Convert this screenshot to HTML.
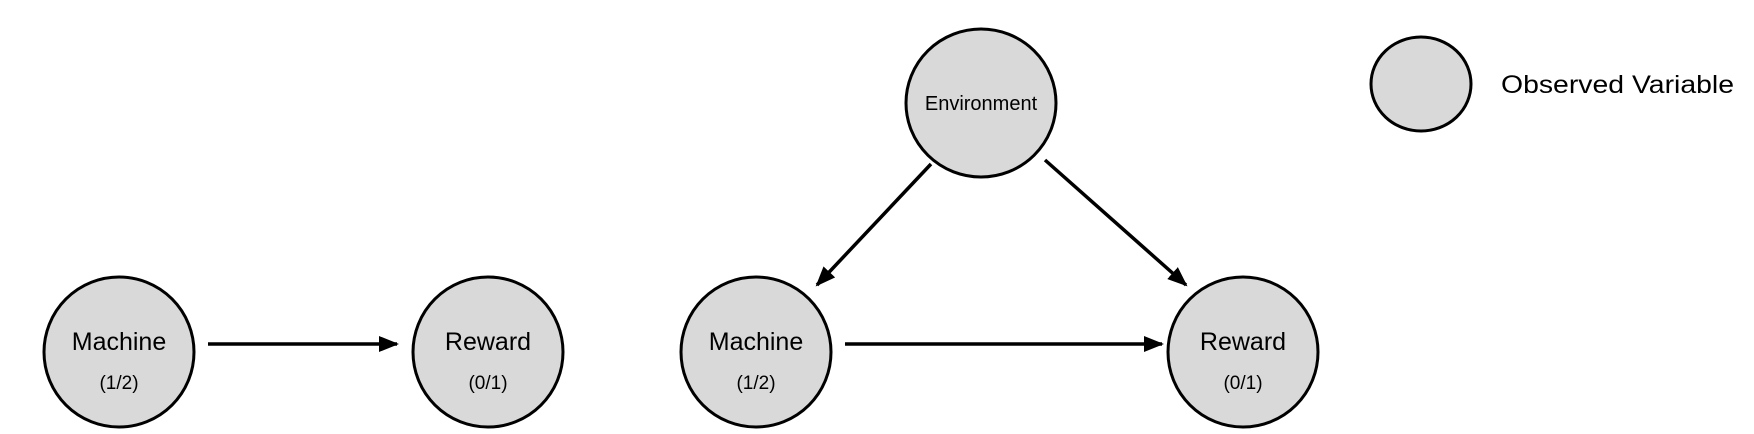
<!DOCTYPE html>
<html><head><style>html,body{margin:0;padding:0;background:#fff;}svg{display:block}</style></head>
<body>
<svg width="1754" height="434" viewBox="0 0 1754 434" xmlns="http://www.w3.org/2000/svg" font-family="'Liberation Sans', sans-serif">
<defs>
<marker id="ah" markerWidth="20" markerHeight="16" refX="18" refY="8" orient="auto" markerUnits="userSpaceOnUse" viewBox="0 0 20 16">
<path d="M0,0 L20,8 L0,16 z" fill="#000"/>
</marker>
</defs>
<g fill="#d9d9d9" stroke="#000" stroke-width="3">
<ellipse cx="981" cy="103" rx="75" ry="74"/>
<ellipse cx="1421" cy="84" rx="50" ry="47"/>
<ellipse cx="119" cy="352" rx="75" ry="75"/>
<ellipse cx="488" cy="352" rx="75" ry="75"/>
<ellipse cx="756" cy="352" rx="75" ry="75"/>
<ellipse cx="1243" cy="352" rx="75" ry="75"/>
</g>
<g stroke="#000" stroke-width="3.5" fill="none">
<line x1="208" y1="344" x2="397" y2="344" marker-end="url(#ah)"/>
<line x1="845" y1="344" x2="1162" y2="344" marker-end="url(#ah)"/>
<line x1="931" y1="164" x2="817" y2="285" marker-end="url(#ah)"/>
<line x1="1045" y1="160" x2="1186" y2="285" marker-end="url(#ah)"/>
</g>
<g fill="#000" text-anchor="middle">
<text x="981" y="110" font-size="20">Environment</text>
<text x="119" y="350" font-size="25">Machine</text>
<text x="119" y="389" font-size="19">(1/2)</text>
<text x="488" y="350" font-size="25">Reward</text>
<text x="488" y="389" font-size="19">(0/1)</text>
<text x="756" y="350" font-size="25">Machine</text>
<text x="756" y="389" font-size="19">(1/2)</text>
<text x="1243" y="350" font-size="25">Reward</text>
<text x="1243" y="389" font-size="19">(0/1)</text>
</g>
<text x="1501" y="93" font-size="25" textLength="233" lengthAdjust="spacingAndGlyphs">Observed Variable</text>
</svg>
</body></html>
